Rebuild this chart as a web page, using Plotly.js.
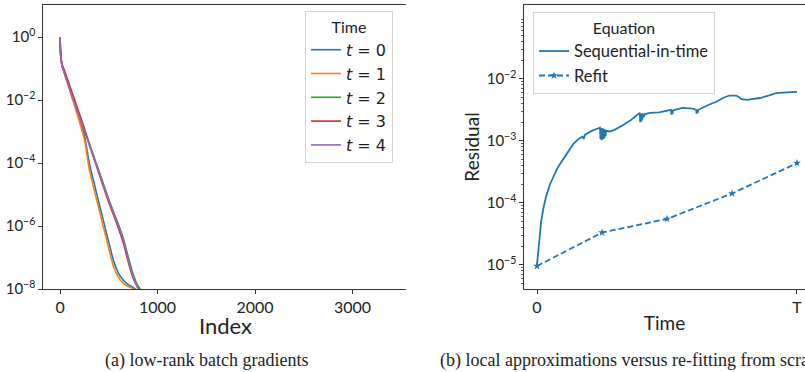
<!DOCTYPE html>
<html><head><meta charset="utf-8">
<script src="https://cdn.plot.ly/plotly-3.0.1.min.js"></script>
<style>html,body{margin:0;padding:0;background:#fff;} #chart{width:805px;height:372px;}</style>
</head><body><div id="chart"></div>
<script>
// ---------- Panel (a): low-rank batch gradients ----------
const gradIndex = [0,5,15,25,50,100,150,200,250,300,350,400,450,500,550,600,650,700,750,800,850,900];
// log10 of normalized singular values
const t0Log = [0,-0.5,-0.8,-0.95,-1.18,-1.64,-2.1,-2.58,-3.12,-4.0,-4.65,-5.28,-5.9,-6.52,-7.12,-7.5,-7.72,-7.86,-7.95,-8.1,-8.3,-8.5];
const t1Log = [0,-0.5,-0.8,-0.97,-1.22,-1.7,-2.2,-2.7,-3.25,-4.2,-4.85,-5.47,-6.1,-6.72,-7.3,-7.63,-7.82,-7.92,-7.99,-8.15,-8.35,-8.5];
const t2Log = [0,-0.5,-0.8,-0.95,-1.17,-1.63,-2.07,-2.52,-2.95,-3.37,-3.82,-4.26,-4.71,-5.15,-5.56,-5.96,-6.4,-6.98,-7.53,-7.9,-8.12,-8.4];
const t3Log = [0,-0.5,-0.78,-0.9,-1.1,-1.55,-2.0,-2.45,-2.9,-3.42,-3.88,-4.34,-4.8,-5.25,-5.66,-6.08,-6.55,-7.15,-7.65,-7.98,-8.18,-8.4];
const t4Log = [0,-0.5,-0.8,-0.95,-1.18,-1.65,-2.1,-2.55,-2.98,-3.4,-3.85,-4.3,-4.75,-5.2,-5.6,-6.0,-6.45,-7.1,-7.6,-7.95,-8.15,-8.4];
const gradSeries = [t0Log,t1Log,t2Log,t3Log,t4Log];
const gradNames = ['<i>t</i> = 0','<i>t</i> = 1','<i>t</i> = 2','<i>t</i> = 3','<i>t</i> = 4'];
const gradXTicks = [0,1000,2000,3000];
const gradYTickVals = [1,1e-2,1e-4,1e-6,1e-8];
const gradYTickText = ['10<sup>0</sup>','10<sup>\u22122</sup>','10<sup>\u22124</sup>','10<sup>\u22126</sup>','10<sup>\u22128</sup>'];

// ---------- Panel (b): residual over time ----------
const seqTime = [0,0.008,0.016,0.025,0.035,0.05,0.065,0.08,0.1,0.12,0.14,0.16,0.175,0.18,0.185,0.21,0.235,0.242,0.244,0.246,0.248,0.25,0.252,0.254,0.256,0.258,0.26,0.262,0.264,0.266,0.28,0.3,0.33,0.36,0.38,0.395,0.397,0.399,0.401,0.403,0.405,0.407,0.41,0.415,0.435,0.47,0.515,0.517,0.519,0.521,0.523,0.53,0.56,0.6,0.612,0.614,0.616,0.618,0.62,0.625,0.64,0.665,0.69,0.715,0.74,0.765,0.775,0.787,0.807,0.83,0.858,0.89,0.92,0.96,1.0];
const seqLog = [-5.0,-4.6,-4.3,-4.08,-3.9,-3.7,-3.55,-3.43,-3.3,-3.17,-3.05,-2.97,-2.93,-2.97,-2.9,-2.84,-2.8,-2.79,-2.97,-2.79,-2.99,-2.8,-2.98,-2.8,-2.97,-2.81,-2.95,-2.82,-2.92,-2.84,-2.85,-2.82,-2.75,-2.67,-2.6,-2.55,-2.7,-2.56,-2.69,-2.56,-2.66,-2.56,-2.62,-2.57,-2.55,-2.54,-2.5,-2.58,-2.5,-2.57,-2.51,-2.5,-2.47,-2.48,-2.5,-2.56,-2.5,-2.55,-2.5,-2.49,-2.45,-2.41,-2.37,-2.31,-2.27,-2.27,-2.29,-2.33,-2.34,-2.33,-2.31,-2.27,-2.23,-2.22,-2.21];
const refitTime = [0,0.25,0.5,0.75,1.0];
const refitLog = [-5.02,-4.48,-4.26,-3.85,-3.36];
const resXTickVals = [0,1];
const resXTickText = ['0','T'];
const resYTickVals = [1e-2,1e-3,1e-4,1e-5];
const resYTickText = ['10<sup>\u22122</sup>','10<sup>\u22123</sup>','10<sup>\u22124</sup>','10<sup>\u22125</sup>'];

const colors = ['#1f77b4','#ff7f0e','#2ca02c','#d62728','#9467bd'];
const pow10 = a => a.map(v => Math.pow(10, v));

const W = 805, H = 372;
const traces = [];
gradSeries.forEach((s,i) => {
  traces.push({x: gradIndex, y: pow10(s), type:'scatter', mode:'lines', name: gradNames[i],
    line:{color: colors[i], width:1.6, shape:'spline', smoothing:0.6}, xaxis:'x', yaxis:'y', legend:'legend'});
});
traces.push({x: seqTime, y: pow10(seqLog), type:'scatter', mode:'lines', name:'Sequential-in-time',
  line:{color:'#1f77b4', width:1.8}, xaxis:'x2', yaxis:'y2', legend:'legend2'});
traces.push({x: refitTime, y: pow10(refitLog), type:'scatter', mode:'lines+markers', name:'Refit',
  line:{color:'#1f77b4', width:1.8, dash:'6px,3px'}, marker:{symbol:'star', size:6, color:'#1f77b4'},
  xaxis:'x2', yaxis:'y2', legend:'legend2'});

// minor ticks for right log axis
const minorVals = [];
[-6,-5,-4,-3,-2,-1].forEach(d => { for (let k=2;k<=9;k++) minorVals.push(k*Math.pow(10,d)); });

const axisCommon = {showline:true, linecolor:'#333', linewidth:1.2, ticks:'outside', ticklen:3.5, tickwidth:1,
  tickcolor:'#333', showgrid:false, zeroline:false, automargin:false};
const yDom = [1-289/H, 1-5/H];

const layout = {
  width:W, height:H, margin:{l:0,r:0,t:0,b:0}, paper_bgcolor:'#fff', plot_bgcolor:'#fff', showlegend:true,
  font:{family:'Lato', color:'#222'},
  xaxis: Object.assign({}, axisCommon, {domain:[43/W, 406/W], range:[-175,3549], tickmode:'array', tickvals:gradXTicks,
    mirror:true, anchor:'y', tickfont:{family:'Lato', size:16, color:'#222'}}),
  yaxis: Object.assign({}, axisCommon, {domain:yDom, type:'log', range:[-8, 1.02], tickmode:'array',
    tickvals:gradYTickVals, ticktext:gradYTickText, anchor:'x', tickfont:{family:'Lato', size:15, color:'#222'}}),
  xaxis2: Object.assign({}, axisCommon, {domain:[524/W, 1], range:[-0.05, 1.0308], tickmode:'array', tickvals:resXTickVals,
    ticktext:resXTickText, mirror:true, anchor:'y2', tickfont:{family:'Lato', size:16, color:'#222'},
    title:{text:'Time', font:{family:'Lato', size:19, color:'#222'}, standoff:1}}),
  yaxis2: Object.assign({}, axisCommon, {domain:yDom, type:'log', range:[-5.39,-0.81], tickmode:'array',
    tickvals:resYTickVals, ticktext:resYTickText, anchor:'x2', tickfont:{family:'Lato', size:15, color:'#222'},
    minor:{tickmode:'array', tickvals:minorVals, ticks:'outside', ticklen:2, tickwidth:0.8, tickcolor:'#333', showgrid:false},
    title:{text:'Residual', font:{family:'Lato', size:19, color:'#222'}, standoff:2}}),
  legend: {x:305/W, y:1-11/H, xanchor:'left', yanchor:'top', bgcolor:'rgba(255,255,255,0.85)', bordercolor:'#d3d3d3', borderwidth:1,
    font:{family:'DejaVu Sans', size:16, color:'#222'}, title:{text:'Time', side:'top center', font:{family:'Lato', size:16, color:'#222'}}},
  legend2: {x:533/W, y:1-12/H, xanchor:'left', yanchor:'top', bgcolor:'rgba(255,255,255,0.85)', bordercolor:'#d3d3d3', borderwidth:1,
    font:{family:'Lato', size:16.5, color:'#222'}, title:{text:'Equation', side:'top center', font:{family:'Lato', size:16, color:'#222'}}},
  annotations: [
    {text:'Index', xref:'paper', yref:'paper', x:225.5/W, y:1-325/H, xanchor:'center', yanchor:'middle',
      showarrow:false, font:{family:'Lato', size:22, color:'#222'}},
    {text:'(a) low-rank batch gradients', xref:'paper', yref:'paper', x:206/W, y:1-360/H, xanchor:'center', yanchor:'middle',
      showarrow:false, font:{family:'Liberation Serif', size:18, color:'#222'}},
    {text:'(b) local approximations versus re-fitting from scratch', xref:'paper', yref:'paper', x:438/W, y:1-360/H, xanchor:'left', yanchor:'middle',
      showarrow:false, font:{family:'Liberation Serif', size:18, color:'#222'}}
  ]
};
Plotly.newPlot('chart', traces, layout, {staticPlot:true, displayModeBar:false});
</script></body></html>
